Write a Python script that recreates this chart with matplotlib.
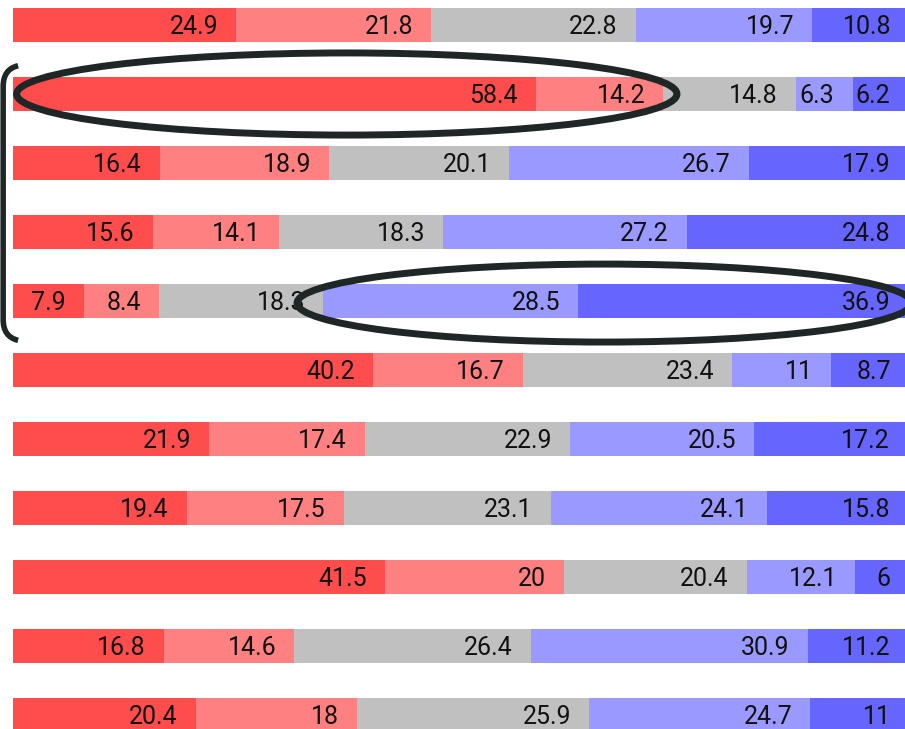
import numpy as np
import matplotlib
matplotlib.use('Agg')
import matplotlib.pyplot as plt
from matplotlib.patches import Ellipse, PathPatch
from matplotlib.path import Path
from matplotlib.transforms import blended_transform_factory

plt.rcParams['font.family'] = ['Roboto', 'DejaVu Sans']

# Share of answers per group, one list per answer category (left to right)
strongly_agree = [24.9, 58.4, 16.4, 15.6, 7.9, 40.2, 21.9, 19.4, 41.5, 16.8, 20.4]
agree = [21.8, 14.2, 18.9, 14.1, 8.4, 16.7, 17.4, 17.5, 20.0, 14.6, 18.0]
neutral = [22.8, 14.8, 20.1, 18.3, 18.3, 23.4, 22.9, 23.1, 20.4, 26.4, 25.9]
disagree = [19.7, 6.3, 26.7, 27.2, 28.5, 11.0, 20.5, 24.1, 12.1, 30.9, 24.7]
strongly_disagree = [10.8, 6.2, 17.9, 24.8, 36.9, 8.7, 17.2, 15.8, 6.0, 11.2, 11.0]

series = [strongly_agree, agree, neutral, disagree, strongly_disagree]
colors = ['#ff4d4d', '#ff8080', '#c0c0c0', '#9999ff', '#6666ff']


def fmt(v):
    """
    Label text: drop the trailing .0
    """
    return '{:g}'.format(v)


# Figure
fig = plt.figure(figsize=(9.05, 7.29), dpi=100)
ax = fig.add_axes([0, 0, 1, 1])

rows = np.arange(len(strongly_agree))
left = np.zeros(len(rows))

for values, color in zip(series, colors):
    values = np.array(values)
    ax.barh(rows, values, left=left, height=0.5, color=color, linewidth=0)
    for y, v, l in zip(rows, values, left):
        ax.annotate(fmt(v), xy=(l + v, y), xytext=(-13, -1.5), textcoords='offset points',
                    ha='right', va='center', fontsize=18, color='#111111',
                    annotation_clip=False)
    left = left + values

# Highlight ellipses (row, first segment, last segment, left pad, right pad, height)
cum = np.cumsum(np.array(series), axis=0)
starts = cum - np.array(series)
highlights = [(1, 0, 1, 0.4, 1.5, 1.19), (4, 3, 4, -2.9, 0.3, 1.13)]
for row, s0, s1, pad_l, pad_r, h in highlights:
    x0 = starts[s0, row] + pad_l
    x1 = cum[s1, row] + pad_r
    ax.add_patch(Ellipse(((x0 + x1) / 2, row + 0.03 * (row > 2)), x1 - x0, h,
                         fill=False, edgecolor='#1f2626', linewidth=5, zorder=5,
                         clip_on=False))

# Bracket grouping rows 2-5
trans = blended_transform_factory(ax.transAxes, ax.transData)
y_top, y_bot = 0.59, 4.57
xa, xb = 0.0035, 0.02
verts = [(xb, y_top), (xa, y_top + 0.05), (xa, y_top + 0.3),
         (xa, y_bot - 0.3), (xa, y_bot - 0.05), (xb, y_bot)]
codes = [Path.MOVETO, Path.CURVE3, Path.CURVE3, Path.LINETO, Path.CURVE3, Path.CURVE3]
ax.add_patch(PathPatch(Path(verts, codes), fill=False, edgecolor='#1f2626',
                       linewidth=4, transform=trans, clip_on=False, capstyle='butt'))

# Plot properties
ax.set_xlim(-13 / 8.96, 892 / 8.96)
ax.set_ylim(704 / 69, -25 / 69)
ax.axis('off')

fig.savefig('out.png', dpi=100)
plt.close(fig)
